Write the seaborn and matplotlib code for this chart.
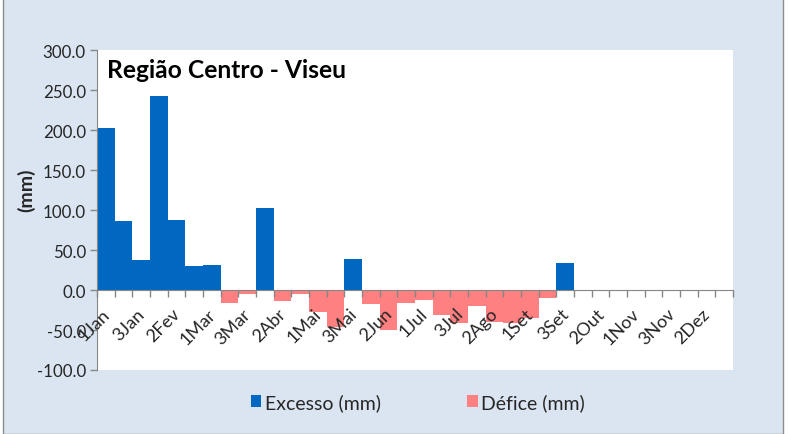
import matplotlib
matplotlib.use("Agg")
import matplotlib.pyplot as plt
import matplotlib.transforms as mtransforms
from matplotlib.patches import Patch, Rectangle
import seaborn as sns
import numpy as np

categories = ["1Jan", "2Jan", "3Jan", "1Fev", "2Fev", "3Fev", "1Mar", "2Mar", "3Mar",
              "1Abr", "2Abr", "3Abr", "1Mai", "2Mai", "3Mai", "1Jun", "2Jun", "3Jun",
              "1Jul", "2Jul", "3Jul", "1Ago", "2Ago", "3Ago", "1Set", "2Set", "3Set",
              "1Out", "2Out", "3Out", "1Nov", "2Nov", "3Nov", "1Dez", "2Dez", "3Dez"]
excesso = [202.0, 86.0, 37.5, 242.0, 87.5, 30.0, 31.0, 0, 0,
           102.5, 0, 0, 0, 0, 38.8, 0, 0, 0,
           0, 0, 0, 0, 0, 0, 0, 0, 33.8,
           0, 0, 0, 0, 0, 0, 0, 0, 0]
defice = [0, 0, 0, 0, 0, 0, 0, -16.7, -4.6,
          0, -13.3, -4.6, -27.0, -46.7, 0, -18.0, -49.6, -15.8,
          -12.5, -31.0, -41.7, -20.0, -39.6, -41.2, -35.0, -9.6, 0,
          0, 0, 0, 0, 0, 0, 0, 0, 0]
y_ticks = [-100, -50, 0, 50, 100, 150, 200, 250, 300]
title = "Região Centro - Viseu"
series_names = ["Excesso (mm)", "Défice (mm)"]

BLUE = "#0068C0"
PINK = "#FF8080"
BG = "#DBE5F1"
AXIS_GRAY = "#868686"

sns.set_style("white")
plt.rcParams["font.family"] = ["Lato", "DejaVu Sans"]

W, H = 790, 435
fig = plt.figure(figsize=(W / 100, H / 100), dpi=100)
fig.patch.set_facecolor("white")
fig.patches.append(Rectangle((3 / W, 0 / H), 780 / W, (H - 5) / H + 0.02,
                             transform=fig.transFigure, facecolor=BG,
                             edgecolor="#8C8C8C", linewidth=1.0, zorder=-10))

ax = fig.add_axes([97 / W, 1 - 371 / H, (733 - 97) / W, (371 - 51) / H])
ax.set_facecolor("white")

sns.barplot(x=categories, y=excesso, order=categories, color=BLUE, width=1.0,
            saturation=1, ax=ax, linewidth=0)
sns.barplot(x=categories, y=defice, order=categories, color=PINK, width=1.0,
            saturation=1, ax=ax, linewidth=0)

ax.set_axisbelow(False)
ax.set_xlim(-0.5, len(categories) - 0.5)
ax.set_ylim(-100, 300)
ax.set_yticks(y_ticks)
ax.set_yticklabels([f"{v:.1f}" for v in y_ticks], fontsize=12.2)
ax.set_xlabel("")
ax.set_ylabel("")

for s in ["top", "right"]:
    ax.spines[s].set_visible(False)
ax.spines["left"].set_color(AXIS_GRAY)
ax.spines["bottom"].set_color(AXIS_GRAY)
ax.spines["bottom"].set_position(("data", 0))
ax.spines["bottom"].set_zorder(5)
ax.xaxis.set_zorder(6)

ax.tick_params(axis="y", direction="out", length=5, color=AXIS_GRAY, width=1, pad=3,
               left=True)
major_pos = list(range(0, len(categories), 2))
ax.set_xticks(major_pos)
ax.set_xticklabels([categories[i] for i in major_pos], fontsize=13, rotation=45,
                   ha="right", va="center", rotation_mode="anchor")
ax.set_xticks(np.arange(-0.5, len(categories), 1.0), minor=True)
ax.tick_params(axis="x", which="major", length=0, pad=15)
ax.tick_params(axis="x", which="minor", direction="out", length=5, color=AXIS_GRAY,
               width=1, bottom=True)
offset = mtransforms.ScaledTranslation(1 / 100, 0, fig.dpi_scale_trans)
for lab in ax.get_xticklabels():
    lab.set_transform(lab.get_transform() + offset)

ax.text(0.016, 0.975, title, transform=ax.transAxes, ha="left", va="top",
        fontsize=17.7, fontweight="bold", color="black")

fig.text(26 / W, 1 - 190 / H, "(mm)", rotation=90, ha="center", va="center",
         fontsize=14, fontweight="bold")

handles = [Patch(facecolor=BLUE, edgecolor="none"), Patch(facecolor=PINK, edgecolor="none")]
fig.legend(handles, series_names, loc="center", bbox_to_anchor=(418 / W, 1 - 403 / H),
           ncol=2, frameon=False, fontsize=14, handlelength=0.55, handleheight=0.55,
           handletextpad=0.2, columnspacing=4.4)

fig.savefig("out.png", dpi=100, facecolor=fig.get_facecolor())
